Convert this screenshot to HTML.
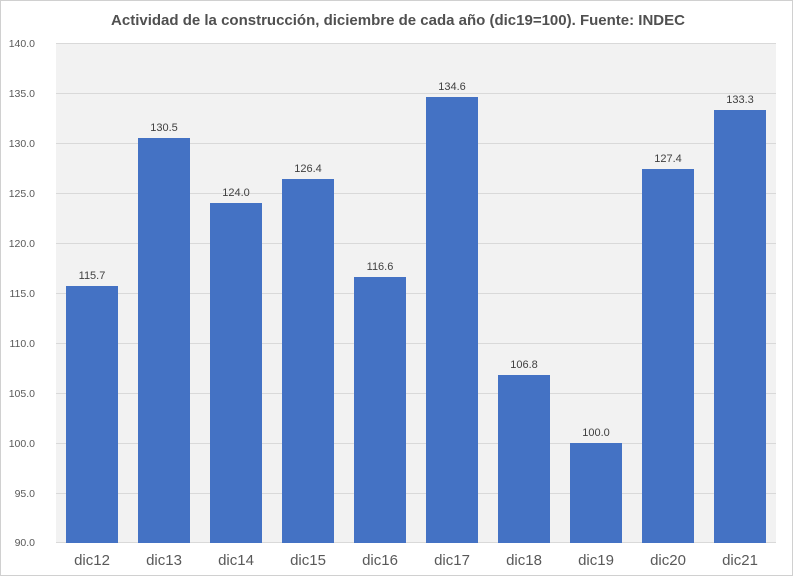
<!DOCTYPE html>
<html><head><meta charset="utf-8"><style>
body{margin:0;background:#fff}
svg{display:block;font-family:"Liberation Sans",sans-serif}
</style></head><body>
<svg width="793" height="576" xmlns="http://www.w3.org/2000/svg">
<rect x="0.5" y="0.5" width="792" height="575" fill="#fff" stroke="#d0d0d0"/>
<text x="398" y="25" text-anchor="middle" font-size="15" font-weight="bold" fill="#505050">Actividad de la construcción, diciembre de cada año (dic19=100). Fuente: INDEC</text>
<rect x="56" y="43" width="720" height="500" fill="#f2f2f2"/>
<g stroke="#d9d9d9" stroke-width="1">
<line x1="56" x2="776" y1="43.5" y2="43.5"/><line x1="56" x2="776" y1="93.5" y2="93.5"/>
<line x1="56" x2="776" y1="143.5" y2="143.5"/><line x1="56" x2="776" y1="193.5" y2="193.5"/>
<line x1="56" x2="776" y1="243.5" y2="243.5"/><line x1="56" x2="776" y1="293.5" y2="293.5"/>
<line x1="56" x2="776" y1="343.5" y2="343.5"/><line x1="56" x2="776" y1="393.5" y2="393.5"/>
<line x1="56" x2="776" y1="443.5" y2="443.5"/><line x1="56" x2="776" y1="493.5" y2="493.5"/>
<line x1="56" x2="776" y1="542.5" y2="542.5"/>
</g>
<g font-size="10.5" fill="#595959" text-anchor="end">
<text x="35" y="47">140.0</text><text x="35" y="97">135.0</text><text x="35" y="147">130.0</text>
<text x="35" y="197">125.0</text><text x="35" y="247">120.0</text><text x="35" y="297">115.0</text>
<text x="35" y="347">110.0</text><text x="35" y="397">105.0</text><text x="35" y="447">100.0</text>
<text x="35" y="497">95.0</text><text x="35" y="546">90.0</text>
</g>
<g fill="#4472c4">
<rect x="66" y="286" width="52" height="257"/>
<rect x="138" y="138" width="52" height="405"/>
<rect x="210" y="203" width="52" height="340"/>
<rect x="282" y="179" width="52" height="364"/>
<rect x="354" y="277" width="52" height="266"/>
<rect x="426" y="97" width="52" height="446"/>
<rect x="498" y="375" width="52" height="168"/>
<rect x="570" y="443" width="52" height="100"/>
<rect x="642" y="169" width="52" height="374"/>
<rect x="714" y="110" width="52" height="433"/>
</g>
<g font-size="11" fill="#404040" text-anchor="middle">
<text x="92" y="279">115.7</text><text x="164" y="131">130.5</text><text x="236" y="196">124.0</text>
<text x="308" y="172">126.4</text><text x="380" y="270">116.6</text><text x="452" y="90">134.6</text>
<text x="524" y="368">106.8</text><text x="596" y="436">100.0</text><text x="668" y="162">127.4</text>
<text x="740" y="103">133.3</text>
</g>
<g font-size="15" fill="#595959" text-anchor="middle">
<text x="92" y="565">dic12</text><text x="164" y="565">dic13</text><text x="236" y="565">dic14</text>
<text x="308" y="565">dic15</text><text x="380" y="565">dic16</text><text x="452" y="565">dic17</text>
<text x="524" y="565">dic18</text><text x="596" y="565">dic19</text><text x="668" y="565">dic20</text>
<text x="740" y="565">dic21</text>
</g>
</svg>
</body></html>
